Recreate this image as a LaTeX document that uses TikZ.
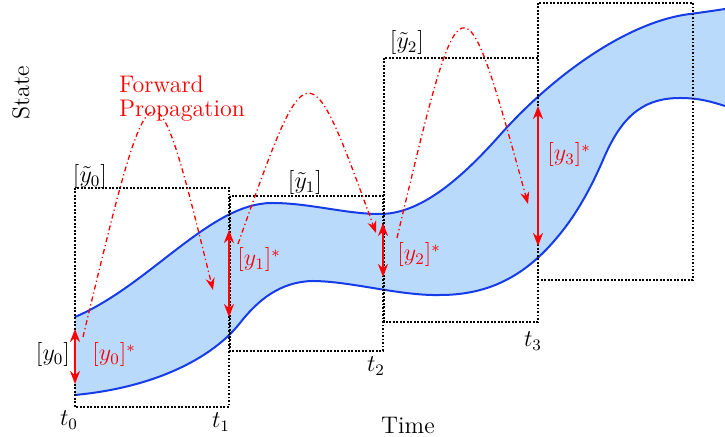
\documentclass[tikz,border=0pt]{standalone}
\usetikzlibrary{arrows.meta}
\definecolor{bandfill}{RGB}{186,218,252}
\definecolor{bandline}{RGB}{22,60,232}
\begin{document}
\begin{tikzpicture}[x=0.5pt,y=-0.5pt, font=\fontsize{12}{14}\selectfont,
  box/.style={draw=black, line width=0.85pt, dash pattern=on 0.85pt off 0.9pt},
  band/.style={draw=bandline, line width=1pt},
  interval/.style={red, line width=1.2pt, {Stealth[length=6.5pt,width=5pt]}-{Stealth[length=6.5pt,width=5pt]}},
  prop/.style={red, line width=0.65pt, dash pattern=on 2.5pt off 1.5pt on 0.6pt off 1.5pt, -{Stealth[length=6pt,width=4.5pt]}},
  lbl/.style={inner sep=0pt}]
\useasboundingbox (0,0) rectangle (725,437);
% band
\fill[bandfill] (75,317) .. controls (150,285) and (210,203) .. (272,203)
  .. controls (310,203) and (345,214) .. (380,214)
  .. controls (420,214) and (460,180) .. (500,135)
  .. controls (550,78.75) and (625,22) .. (690,14)
  .. controls (705,12) and (715,10.5) .. (725,9)
  -- (725,106) .. controls (712,102) and (700,98) .. (680,98)
  .. controls (640,98) and (620,120) .. (603,160)
  .. controls (590,190) and (575,217) .. (555,240)
  .. controls (525,275) and (490,295) .. (440,295)
  .. controls (400,296) and (350,281) .. (312,281)
  .. controls (280,282) and (258,300) .. (240,323)
  .. controls (215,355) and (160,387) .. (75,395) -- cycle;
\draw[band] (75,317) .. controls (150,285) and (210,203) .. (272,203)
  .. controls (310,203) and (345,214) .. (380,214)
  .. controls (420,214) and (460,180) .. (500,135)
  .. controls (550,78.75) and (625,22) .. (690,14)
  .. controls (705,12) and (715,10.5) .. (725,9);
\draw[band] (725,106) .. controls (712,102) and (700,98) .. (680,98)
  .. controls (640,98) and (620,120) .. (603,160)
  .. controls (590,190) and (575,217) .. (555,240)
  .. controls (525,275) and (490,295) .. (440,295)
  .. controls (400,296) and (350,281) .. (312,281)
  .. controls (280,282) and (258,300) .. (240,323)
  .. controls (215,355) and (160,387) .. (75,395);
% boxes
\draw[box] (75,188) rectangle (229,407);
\draw[box] (230,196) rectangle (383,351);
\draw[box] (384,58) rectangle (538,322);
\draw[box] (538,3) rectangle (693,280);
% box labels
\node[lbl] (yt0) at (90,177) {$[\tilde y_0]$};
\node[lbl] (yt1) at (305,183) {$[\tilde y_1]$};
\node[lbl] (yt2) at (407,43) {$[\tilde y_2]$};
\node[lbl] (t0) at (69,420) {$t_0$};
\node[lbl] (t1) at (221,422) {$t_1$};
\node[lbl] (t2) at (376,366) {$t_2$};
\node[lbl] (t3) at (533,341) {$t_3$};
% intervals
\coordinate (a0t) at (75,329); \coordinate (a0b) at (75,384);
\coordinate (a1t) at (229,230); \coordinate (a1b) at (229,317);
\coordinate (a2t) at (383,223); \coordinate (a2b) at (383,277);
\coordinate (a3t) at (538,106); \coordinate (a3b) at (538,246);
\draw[interval] (a0t) -- (a0b);
\draw[interval] (a1t) -- (a1b);
\draw[interval] (a2t) -- (a2b);
\draw[interval] (a3t) -- (a3b);
\node[lbl] (y0) at (53,355) {$[y_0]$};
\node[lbl, red, anchor=west] (y0s) at (92,355) {$[y_0]^*$};
\node[lbl, red, anchor=west] (y1s) at (237,260) {$[y_1]^*$};
\node[lbl, red, anchor=west] (y2s) at (397,255) {$[y_2]^*$};
\node[lbl, red, anchor=west] (y3s) at (547,155) {$[y_3]^*$};
% propagation arcs
\coordinate (p1s) at (83,337); \coordinate (p1c) at (153,46); \coordinate (p1e) at (213,290);
\coordinate (p2s) at (238,244); \coordinate (p2c) at (308,46); \coordinate (p2e) at (376,233);
\coordinate (p3s) at (397,238); \coordinate (p3c) at (462,-35); \coordinate (p3e) at (528,204);
\draw[prop] (p1s) .. controls (p1c) .. (p1e);
\draw[prop] (p2s) .. controls (p2c) .. (p2e);
\draw[prop] (p3s) .. controls (p3c) .. (p3e);
% axis labels
\node[lbl, rotate=90] (state) at (21,93) {State};
\node[lbl, red, align=left, font=\fontsize{12}{12}\selectfont] (fp) at (182,99) {Forward\\Propagation};
\node[lbl] (time) at (408,425) {Time};
\end{tikzpicture}
\end{document}
